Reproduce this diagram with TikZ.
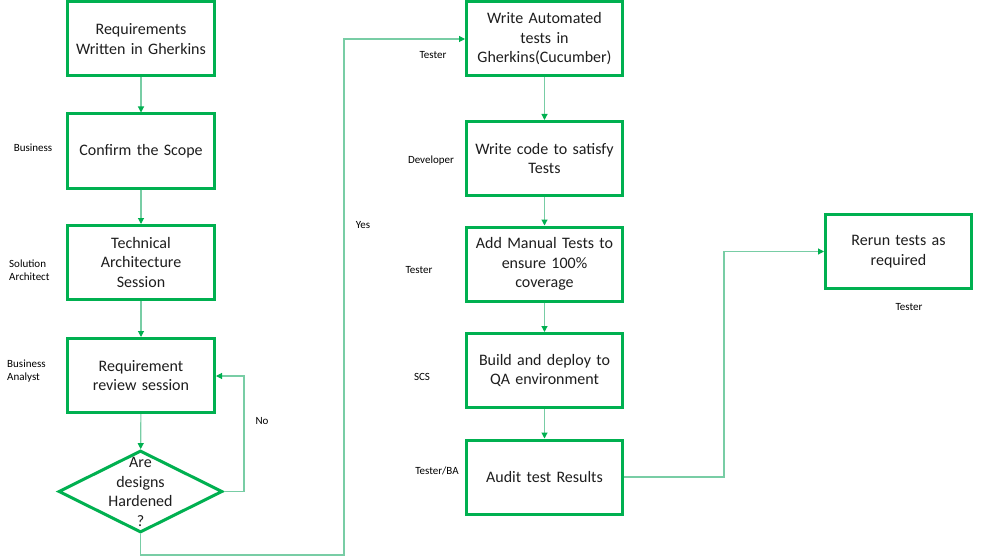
\documentclass[tikz,border=0pt]{standalone}
\usepackage{fontspec}
\setmainfont{Carlito}
\usetikzlibrary{arrows.meta,shapes.geometric}
\definecolor{boxgreen}{RGB}{0,176,80}
\definecolor{linegreen}{RGB}{120,205,165}
\definecolor{txt}{RGB}{30,30,30}
\begin{document}
\begin{tikzpicture}[x=1pt,y=-1pt,
  stepbox/.style={draw=boxgreen,line width=3pt,align=center,text=txt,
    font=\fontsize{16}{19.5}\selectfont,inner sep=2pt},
  leftbox/.style={stepbox,minimum width=147pt,minimum height=74pt,text width=140pt},
  rightbox/.style={stepbox,minimum width=156pt,minimum height=74pt,text width=150pt},
  lab/.style={font=\fontsize{11}{13.5}\selectfont,text=black,inner sep=0pt},
  conn/.style={draw=linegreen,line width=1.1pt,-{Triangle[width=6pt,length=6pt,color=boxgreen]}}]
\useasboundingbox (0,0) rectangle (1000,556);
\fill[white] (0,0) rectangle (1000,556);
% left column
\node[leftbox] (r1) at (141,39) {Requirements\\Written in Gherkins};
\node[leftbox] (r2) at (141,151) {Confirm the Scope};
\node[leftbox] (r3) at (141,262.5) {Technical\\Architecture\\Session};
\node[leftbox] (r4) at (141,375.5) {Requirement\\review session};
\node[draw=boxgreen,line width=3pt,diamond,minimum width=164pt,minimum height=82pt,inner sep=0pt] (dia) at (140.5,491.5) {};
\node[align=center,text=txt,font=\fontsize{16}{19.5}\selectfont,inner sep=0pt] (diat) at (140.5,492) {Are\\designs\\Hardened\\?};
% right column
\node[rightbox] (a1) at (544.5,39) {Write Automated\\tests in\\Gherkins(Cucumber)};
\node[rightbox] (a2) at (544.5,158.5) {Write code to satisfy\\Tests};
\node[rightbox] (a3) at (544.5,264) {Add Manual Tests to\\ensure 100\%\\coverage};
\node[rightbox] (a4) at (544.5,370.5) {Build and deploy to\\QA environment};
\node[rightbox] (a5) at (544.5,477) {Audit test Results};
\node[leftbox,minimum width=146pt,text width=140pt] (rr) at (898.5,251.5) {Rerun tests as\\required};
% coordinates
\coordinate (yb) at (344,555);
\coordinate (nc) at (244,376);
\coordinate (ac) at (724,251.5);
% connectors
\draw[conn] (r1) -- (r2);
\draw[conn] (r2) -- (r3);
\draw[conn] (r3) -- (r4);
\draw[conn] (r4) -- (dia);
\draw[conn] (dia.east) -| (nc) -- (r4.east |- nc);
\draw[conn] (dia.south) |- (yb) |- (a1.west);
\draw[conn] (a1) -- (a2);
\draw[conn] (a2) -- (a3);
\draw[conn] (a3) -- (a4);
\draw[conn] (a4) -- (a5);
\draw[conn] (a5.east) -| (ac) -- (rr.west);
% role labels
\node[lab] (l1) at (33,148) {Business};
\node[lab,align=left,anchor=west] (l2) at (9,270) {Solution\\Architect};
\node[lab,align=left,anchor=west] (l3) at (7,371) {Business\\Analyst};
\node[lab] (l4) at (433,55) {Tester};
\node[lab] (l5) at (431,161) {Developer};
\node[lab] (l6) at (419,270) {Tester};
\node[lab] (l7) at (422,377) {SCS};
\node[lab] (l8) at (437,471) {Tester/BA};
\node[lab] (l9) at (909,307) {Tester};
\node[lab] (yes) at (363,225) {Yes};
\node[lab] (no) at (262,421) {No};
\end{tikzpicture}
\end{document}
